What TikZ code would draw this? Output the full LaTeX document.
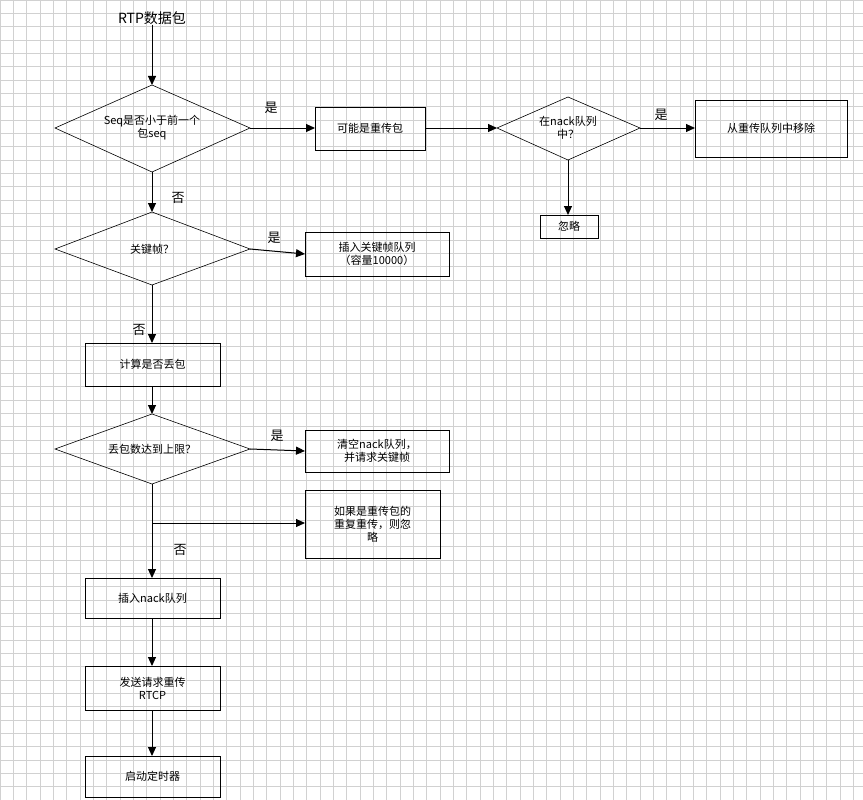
\documentclass[tikz,border=0pt]{standalone}
\usepackage{fontspec}
\setmainfont{Liberation Serif}
\newfontfamily\cjk{Noto Sans CJK SC}
\usetikzlibrary{shapes.geometric,arrows.meta}
\begin{document}
\begin{tikzpicture}[x=1pt,y=-1pt,
  every node/.style={font=\cjk\fontsize{11}{13}\selectfont,align=center,inner sep=0pt},
  box/.style={draw,line width=0.8pt},
  dia/.style={draw,line width=0.6pt},
  arr/.style={-{Triangle[length=9pt,width=8pt]},line width=1pt},
  lab/.style={font=\cjk\fontsize{13}{15}\selectfont}]
\useasboundingbox (0,0) rectangle (863,800);
\fill[white] (0,0) rectangle (863,800);
\foreach \i in {0,...,65} {\draw[black!18,line width=0.5pt] (\i*13.33,0) -- (\i*13.33,800);}
\foreach \i in {0,...,60} {\draw[black!18,line width=0.5pt] (0,\i*13.33) -- (863,\i*13.33);}
\node[font=\cjk\fontsize{14}{16}\selectfont] (t) at (152,18) {RTP数据包};
% diamonds
\draw[dia] (55,128) coordinate (d1w) -- (152,85) coordinate (d1n) -- (250,128) coordinate (d1e) -- (152,172) coordinate (d1s) -- cycle;
\node (d1) at (152,128) {Seq是否小于前一个\\包seq};
\draw[dia] (497,128) coordinate (d2w) -- (568,97) coordinate (d2n) -- (640,128) coordinate (d2e) -- (568,160) coordinate (d2s) -- cycle;
\node (d2) at (568,128) {在nack队列\\中？};
\draw[dia] (55,249) coordinate (d3w) -- (152,212) coordinate (d3n) -- (250,249) coordinate (d3e) -- (152,285) coordinate (d3s) -- cycle;
\node (d3) at (152,249) {关键帧？};
\draw[dia] (55,449) coordinate (d4w) -- (152,414) coordinate (d4n) -- (250,449) coordinate (d4e) -- (152,484) coordinate (d4s) -- cycle;
\node (d4) at (152,449) {丢包数达到上限？};
% boxes
\draw[box] (315,107) rectangle (425,150); \node (b1) at (370,128.5) {可能是重传包};
\coordinate (b1w) at (315,128); \coordinate (b1e) at (425,128);
\draw[box] (695,100) rectangle (847,157); \node (b2) at (771,128.5) {从重传队列中移除};
\coordinate (b2w) at (695,128);
\draw[box] (540,215) rectangle (598,238); \node (b3) at (569,226.5) {忽略};
\coordinate (b3n) at (568,215);
\draw[box] (305,232) rectangle (449,276); \node (b4) at (377,254) {插入关键帧队列\\（容量10000）};
\coordinate (b4w) at (305,254);
\draw[box] (85,343) rectangle (220,386); \node (b5) at (152.5,364.5) {计算是否丢包};
\coordinate (b5n) at (152,343); \coordinate (b5s) at (152,386);
\draw[box] (305,430) rectangle (449,472); \node (b6) at (377,451) {清空nack队列，\\并请求关键帧};
\coordinate (b6w) at (305,451);
\draw[box] (305,490) rectangle (440,558); \node (b7) at (372.5,524) {如果是重传包的\\重复重传，则忽\\略};
\coordinate (b7w) at (305,523); \coordinate (j) at (152,523);
\draw[box] (85,578) rectangle (220,618); \node (b8) at (152.5,598) {插入nack队列};
\coordinate (b8n) at (152,578); \coordinate (b8s) at (152,618);
\draw[box] (85,666) rectangle (220,710); \node (b9) at (152.5,688) {发送请求重传\\RTCP};
\coordinate (b9n) at (152,666); \coordinate (b9s) at (152,710);
\draw[box] (85,756) rectangle (220,797); \node (b10) at (152.5,776.5) {启动定时器};
\coordinate (b10n) at (152,756);
% arrows
\draw[arr] (t) -- (d1n);
\draw[arr] (d1e) -- (b1w);
\draw[arr] (b1e) -- (d2w);
\draw[arr] (d2e) -- (b2w);
\draw[arr] (d2s) -- (b3n);
\draw[arr] (d1s) -- (d3n);
\draw[arr] (d3e) -- (b4w);
\draw[arr] (d3s) -- (b5n);
\draw[arr] (b5s) -- (d4n);
\draw[arr] (d4e) -- (b6w);
\draw[arr] (d4s) -- (b8n);
\draw[arr] (j) -- (b7w);
\draw[arr] (b8s) -- (b9n);
\draw[arr] (b9s) -- (b10n);
% labels
\node[lab] (l1) at (271,108) {是};
\node[lab] (l2) at (661,115) {是};
\node[lab] (l3) at (178,198) {否};
\node[lab] (l4) at (274,238) {是};
\node[lab] (l5) at (139,330) {否};
\node[lab] (l6) at (277,436) {是};
\node[lab] (l7) at (180,550) {否};
\end{tikzpicture}
\end{document}
